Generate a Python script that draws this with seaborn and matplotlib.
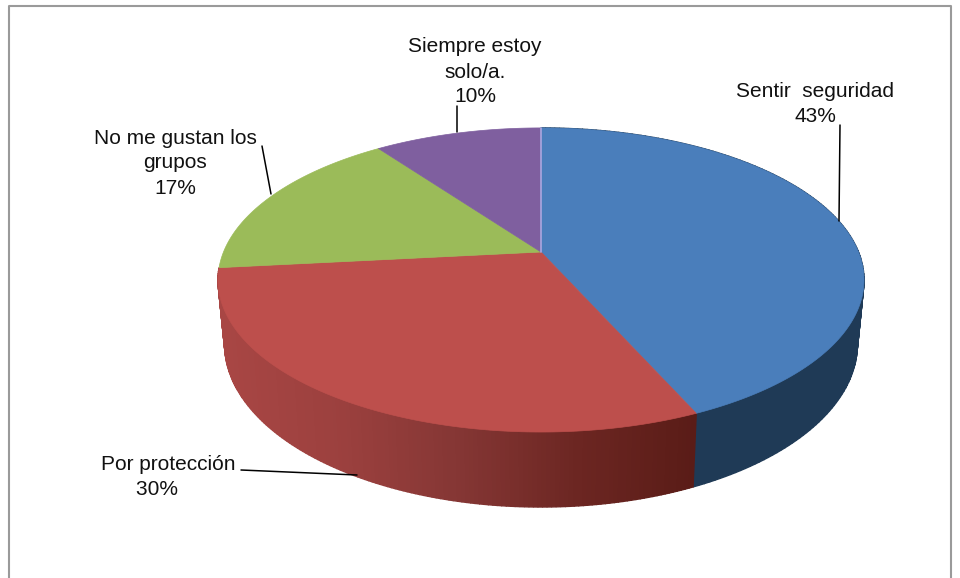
import numpy as np
import matplotlib
matplotlib.use("Agg")
import matplotlib.pyplot as plt
from matplotlib.colors import LinearSegmentedColormap
from matplotlib.patches import Polygon
import seaborn as sns

# values, clockwise from 12 o'clock (13/30, 9/30, 5/30, 3/30)
categories = ["Sentir  seguridad", "Por protección", "No me gustan los\ngrupos", "Siempre estoy\nsolo/a."]
counts = [13, 9, 5, 3]
percent = [43, 30, 17, 10]

top_colors = sns.color_palette(["#4a7ebb", "#bd4f4c", "#9bbb59", "#7f5f9f"])
red_side = ["#5a1c17", "#6c2622", "#843634", "#9b403e", "#a84644"]
blue_side = "#1f3a56"

sns.set_theme(style="white")
plt.rcParams["font.family"] = ["Liberation Sans", "DejaVu Sans"]

fig = plt.figure(figsize=(9.6, 5.78), dpi=100)
ax = fig.add_axes([0, 0, 1, 1])
wedges, _ = ax.pie(counts, colors=top_colors, startangle=90, counterclock=False)
ax.set_aspect("auto")
ax.set_xlim(0, 960)
ax.set_ylim(578, 0)
ax.axis("off")


# perspective view of the disc, in pixels of the picture
def project(theta, cy, a, b, k=0.184):
    u = np.cos(np.radians(theta))
    v = np.sin(np.radians(theta))
    w = 1 + k * v
    return 541 + b * u / w, cy - a * v / w


def top(theta):
    return project(theta, 252, 146.9, 317.5)


def bottom(theta):
    return project(theta, 314, 157.5, 311)


# side wall, only the two front slices show it
cmap = LinearSegmentedColormap.from_list("red_side", red_side)
for wedge, name in zip(wedges[:2], ["blue", "red"]):
    angles = np.linspace(wedge.theta1, wedge.theta2, 160)
    for t1, t2 in zip(angles[:-1], angles[1:]):
        x1, y1 = top(t1)
        x2, y2 = top(t2)
        x3, y3 = bottom(t2)
        x4, y4 = bottom(t1)
        if name == "blue":
            c = blue_side
        else:
            c = cmap(np.clip((695 - x1) / 470, 0, 1))
        ax.add_patch(Polygon([[x1, y1], [x2, y2], [x3, y3], [x4, y4]], facecolor=c, edgecolor=c, lw=1.0))

# top face, same angles the pie computed
for wedge, color in zip(wedges, top_colors):
    wedge.set_visible(False)
    angles = np.linspace(wedge.theta1, wedge.theta2, 200)
    xs, ys = top(angles)
    pts = [[541, 252]] + list(zip(xs, ys))
    ax.add_patch(Polygon(pts, facecolor=color, edgecolor=color, lw=0.5))

# light seam where the first and last slices meet
sx, sy = top(wedges[0].theta2)
ax.plot([541, sx], [252, sy], color="#a9a8e0", lw=1.2)

# labels and leader lines
txt = dict(ha="center", va="center", fontsize=15, color="#111111", linespacing=1.4)
ax.text(815, 104, f"{categories[0]}\n{percent[0]}%", **txt)
ax.text(168, 477, f"{categories[1]}\n{percent[1]}%    ", **txt)
ax.text(175, 163, f"{categories[2]}\n{percent[2]}%", **txt)
ax.text(475, 72, f"{categories[3]}\n{percent[3]}%", **txt)

for xs, ys in [([840, 839], [125, 221]), ([241, 357], [470, 475]), ([262, 271], [146, 194]), ([457, 457], [106, 132])]:
    ax.plot(xs, ys, color="black", lw=1.1)

# outer frame of the chart
ax.plot([9, 9, 951, 951], [578, 6, 6, 578], color="#9a9a9a", lw=1.5)

fig.savefig("out.png", dpi=100)
